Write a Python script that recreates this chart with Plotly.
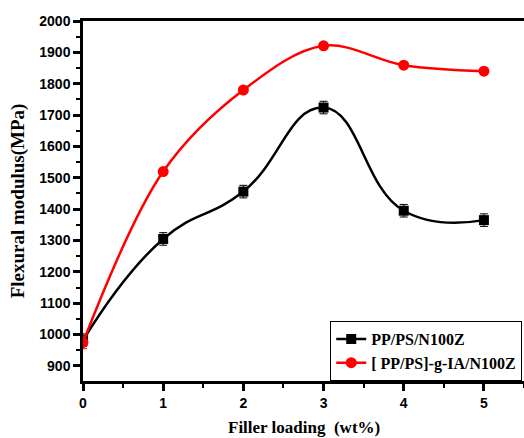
import plotly.graph_objects as go

filler = [0, 1, 2, 3, 4, 5]
pp_ps = [982, 1305, 1456, 1724, 1395, 1365]
pp_ps_err = [20, 20, 20, 20, 20, 20]
pp_ps_g = [975, 1520, 1780, 1921, 1859, 1840]
pp_ps_g_err = [20, 8, 8, 8, 8, 8]

fig = go.Figure()
fig.add_trace(go.Scatter(
    x=filler, y=pp_ps, name="PP/PS/N100Z", mode="lines+markers",
    line=dict(color="black", width=2.5, shape="spline", smoothing=1.3),
    marker=dict(symbol="square", size=10, color="black"),
    error_y=dict(type="data", array=pp_ps_err, color="black", thickness=1, width=4),
))
fig.add_trace(go.Scatter(
    x=filler, y=pp_ps_g, name="[ PP/PS]-g-IA/N100Z", mode="lines+markers",
    line=dict(color="#ff0000", width=2.5, shape="spline", smoothing=1.0),
    marker=dict(symbol="circle", size=11, color="#ff0000"),
    error_y=dict(type="data", array=pp_ps_g_err, color="#ff0000", thickness=1, width=4),
))

axis_font = dict(family="Liberation Sans", size=14, color="black", weight="bold")

fig.update_xaxes(
    range=[0, 5.5], tickmode="linear", tick0=0, dtick=1, automargin=False,
    showline=True, linecolor="black", linewidth=2.5, mirror=True,
    ticks="outside", ticklen=7, tickwidth=2.5, tickcolor="black",
    minor=dict(dtick=0.5, ticks="outside", ticklen=4, tickwidth=1.5, tickcolor="black"),
    showgrid=False, zeroline=False, tickfont=axis_font,
)
fig.update_yaxes(
    range=[852, 2000], tickmode="linear", tick0=900, dtick=100, automargin=False,
    showline=True, linecolor="black", linewidth=2.5, mirror=False,
    ticks="outside", ticklen=7, tickwidth=2.5, tickcolor="black",
    minor=dict(dtick=50, ticks="outside", ticklen=4, tickwidth=1.5, tickcolor="black"),
    showgrid=False, zeroline=False, tickfont=axis_font,
    title=dict(text="Flexural modulus(MPa)",
               font=dict(family="Liberation Serif", size=19, color="black", weight="bold"),
               standoff=10),
)

fig.add_annotation(
    text="Filler loading  (wt%)", xref="x domain", yref="paper",
    x=0.5, y=-0.13, xanchor="center", yanchor="middle", showarrow=False,
    font=dict(family="Liberation Serif", size=17, color="black", weight="bold"),
)

fig.update_layout(
    width=524, height=438,
    margin=dict(l=83, r=0, t=21, b=57),
    plot_bgcolor="white", paper_bgcolor="white",
    showlegend=True,
    legend=dict(
        x=0.996, y=0.0, xanchor="right", yanchor="bottom",
        bgcolor="white", bordercolor="black", borderwidth=1,
        font=dict(family="Liberation Serif", size=16, color="black", weight="bold"),
        tracegroupgap=0, itemwidth=30,
    ),
)

fig.write_html("out.html")
